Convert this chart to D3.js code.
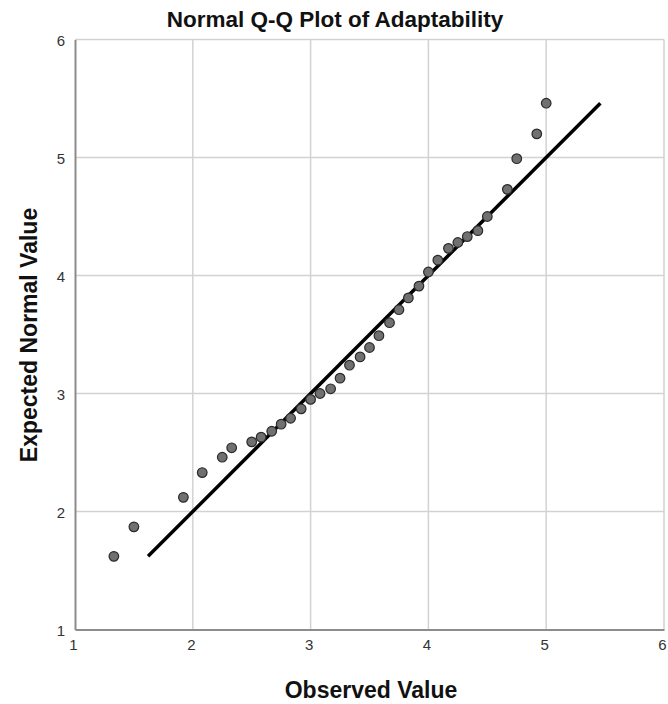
<!DOCTYPE html>
<html lang="en">
<head>
  <meta charset="UTF-8" />
  <title>Normal Q-Q Plot of Adaptability</title>
  <script src="https://d3js.org/d3.v7.min.js"></script>
  <style>
    body { margin: 0; background: #fff; }
    text { font-family: "Liberation Sans", Arial, sans-serif; }
  </style>
</head>
<body>
<svg id="chart" width="668" height="704"></svg>
<script>
// observed values and their expected normal values
const observed = [1.33, 1.50, 1.92, 2.08, 2.25, 2.33, 2.50, 2.58, 2.67, 2.75, 2.83, 2.92,
  3.00, 3.08, 3.17, 3.25, 3.33, 3.42, 3.50, 3.58, 3.67, 3.75, 3.83, 3.92,
  4.00, 4.08, 4.17, 4.25, 4.33, 4.42, 4.50, 4.67, 4.75, 4.92, 5.00];
const expected = [1.62, 1.87, 2.12, 2.33, 2.46, 2.54, 2.59, 2.63, 2.68, 2.74, 2.79, 2.87,
  2.95, 3.00, 3.04, 3.13, 3.24, 3.31, 3.39, 3.49, 3.60, 3.71, 3.81, 3.91,
  4.03, 4.13, 4.23, 4.28, 4.33, 4.38, 4.50, 4.73, 4.99, 5.20, 5.46];
const ticks = [1, 2, 3, 4, 5, 6];

const svg = d3.select("#chart");
const x = d3.scaleLinear().domain([1, 6]).range([75, 664]);
const y = d3.scaleLinear().domain([1, 6]).range([629.5, 39.5]);

// grid
svg.append("g").selectAll("line").data(ticks.slice(1)).join("line")
  .attr("x1", d => x(d)).attr("x2", d => x(d))
  .attr("y1", y(1)).attr("y2", y(6))
  .attr("stroke", "#d2d2d2").attr("stroke-width", 1.5);
svg.append("g").selectAll("line").data(ticks.slice(1)).join("line")
  .attr("x1", x(1)).attr("x2", x(6))
  .attr("y1", d => y(d)).attr("y2", d => y(d))
  .attr("stroke", "#d2d2d2").attr("stroke-width", 1.5);

// axes
const fmt = d3.format("d");
const xAxis = svg.append("g").attr("transform", `translate(0,${y(1)})`)
  .call(d3.axisBottom(x).tickValues(ticks).tickFormat(fmt).tickSize(0).tickPadding(10));
const yAxis = svg.append("g").attr("transform", `translate(${x(1)},0)`)
  .call(d3.axisLeft(y).tickValues(ticks).tickFormat(fmt).tickSize(0).tickPadding(10));
[xAxis, yAxis].forEach(a => {
  a.select(".domain").attr("stroke", "#8c8c8c").attr("stroke-width", 2);
  a.selectAll("text").attr("font-size", 15).attr("fill", "#333")
    .style("font-family", "'Liberation Sans', Arial, sans-serif");
});
xAxis.selectAll("text").attr("dx", -2);
yAxis.selectAll("text").attr("dy", "0.4em");

// reference line
const ext = d3.extent(expected);
svg.append("line")
  .attr("x1", x(ext[0])).attr("y1", y(ext[0]))
  .attr("x2", x(ext[1])).attr("y2", y(ext[1]))
  .attr("stroke", "#000").attr("stroke-width", 3.5);

// points
svg.append("g").selectAll("circle").data(observed).join("circle")
  .attr("cx", d => x(d))
  .attr("cy", (d, i) => y(expected[i]))
  .attr("r", 4.8)
  .attr("fill", "#707070")
  .attr("stroke", "#2a2a2a")
  .attr("stroke-width", 1.2);

// titles
svg.append("text").attr("x", 335).attr("y", 27).attr("text-anchor", "middle")
  .attr("font-size", 22.5).attr("font-weight", "bold").attr("fill", "#111")
  .text("Normal Q-Q Plot of Adaptability");
svg.append("text").attr("x", 371).attr("y", 698).attr("text-anchor", "middle")
  .attr("font-size", 23).attr("font-weight", "bold").attr("fill", "#111")
  .text("Observed Value");
svg.append("text").attr("transform", "translate(37,335) rotate(-90)")
  .attr("text-anchor", "middle")
  .attr("font-size", 23).attr("font-weight", "bold").attr("fill", "#111")
  .text("Expected Normal Value");
</script>
</body>
</html>
